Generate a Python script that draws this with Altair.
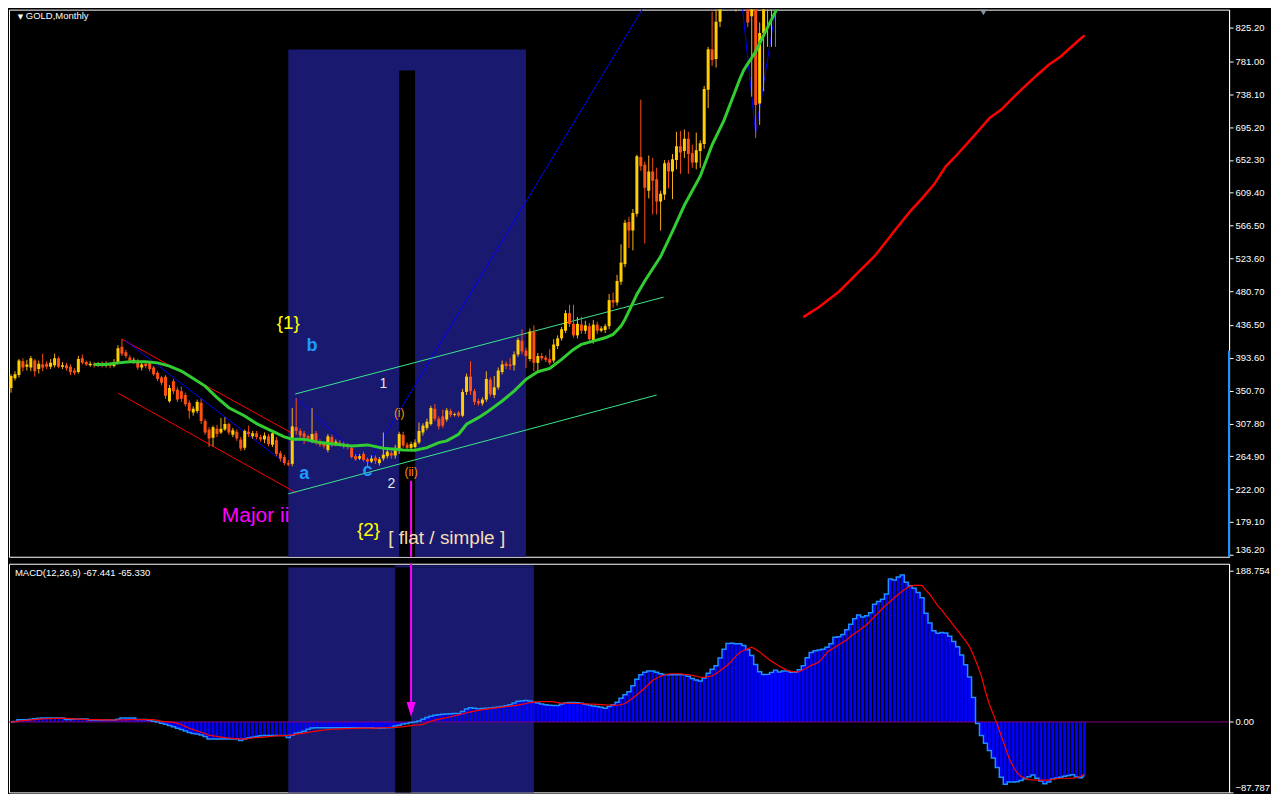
import altair as alt
import pandas as pd

# ---------------- price panel: monthly candles (bar index 0..193) ----------------
OPEN = [354,367,371,389,382,381,390,379,385,386,
        382,384,393,382,384,382,377,375,393,388,
        384,386,384,386,384,386,383,387,408,401,
        394,388,390,381,386,387,381,374,368,369,
        337,363,352,350,345,335,322,324,335,311,
        300,289,301,296,300,307,293,297,287,276,
        297,291,295,290,287,291,280,286,269,264,
        256,255,303,298,295,291,285,295,284,281,
        273,290,281,283,281,279,276,265,262,268,
        261,258,263,256,262,265,269,266,272,293,
        280,276,277,283,296,302,307,327,314,317,
        313,324,319,322,318,349,369,350,337,334,
        339,365,345,355,375,386,385,384,398,416,
        403,392,428,387,396,394,392,390,409,419,
        429,452,438,423,437,429,435,416,437,429,
        430,435,469,466,493,516,571,560,582,656,
        646,612,637,627,598,607,649,637,652,670,
        664,680,661,649,664,673,744,797,784,833,
        885,925,905,900,950,930,900,840,880,726,
        818,880,930,960]
HIGH = [372,376,392,393,391,396,392,390,399,389,
        392,399,395,388,387,385,380,396,398,390,
        389,388,388,389,389,388,392,410,418,404,
        397,394,392,388,389,389,383,376,370,371,
        358,366,355,356,348,338,330,339,340,314,
        303,305,306,315,316,309,302,300,290,300,
        305,298,298,293,296,294,298,290,272,267,
        260,328,341,301,298,293,328,298,287,284,
        294,293,287,286,284,282,279,268,268,271,
        263,266,266,264,296,275,272,280,297,297,
        283,284,287,309,308,314,331,333,317,326,
        328,327,322,324,353,373,389,353,340,342,
        376,368,370,381,390,389,393,402,420,431,
        407,432,436,400,400,397,405,418,423,434,
        456,463,463,447,447,442,439,443,441,435,
        438,477,479,502,542,574,578,588,659,731,
        650,658,655,642,612,652,652,660,689,690,
        692,689,672,688,678,749,800,846,850,905,
        940,950,960,960,990,950,920,900,900,832,
        890,940,960,980]
LOW = [348,364,368,376,377,376,369,373,376,379,
       379,381,380,379,377,371,371,373,385,383,
       382,381,382,381,381,380,381,385,396,393,
       388,386,378,377,380,376,370,363,358,340,
       335,346,336,336,330,314,318,321,307,293,
       277,278,290,294,298,293,290,285,272,273,
       290,288,287,284,282,278,277,265,258,253,
       252,252,293,286,281,285,282,280,277,275,
       270,277,278,278,275,274,262,259,260,258,
       252,256,255,253,259,262,262,262,268,276,
       272,273,275,281,292,299,305,311,300,302,
       310,316,317,316,316,345,345,332,331,331,
       336,343,341,352,372,379,378,377,395,398,
       380,389,376,376,390,388,384,387,405,416,
       426,434,420,419,425,425,414,412,425,427,
       426,431,459,462,489,512,537,534,578,638,
       543,602,581,581,560,600,615,601,640,634,
       655,634,642,640,642,667,720,775,773,826,
       870,880,890,846,900,870,826,735,681,698,
       742,800,800,800]
CLOSE = [370,372,390,381,385,393,376,386,381,382,
         387,393,382,384,380,375,374,392,387,385,
         386,384,386,384,386,383,388,406,399,396,
         390,391,381,385,383,379,372,366,361,344,
         354,350,339,340,333,324,327,336,311,296,
         288,303,294,301,307,296,299,288,275,298,
         294,295,290,287,292,281,295,268,262,256,
         254,304,298,292,290,288,294,283,280,278,
         291,280,284,280,278,277,264,261,265,260,
         258,262,259,261,267,271,266,276,294,279,
         276,281,283,298,305,310,328,314,304,305,
         325,319,320,318,349,369,350,336,334,339,
         366,346,355,377,385,383,383,398,417,402,
         396,428,387,396,393,391,387,411,419,431,
         452,438,423,438,429,436,418,437,429,432,
         435,469,466,494,518,570,560,583,657,644,
         616,637,625,598,608,648,637,653,670,662,
         680,660,649,665,674,745,797,783,833,885,
         925,905,935,950,930,905,832,880,724,818,
         880,930,950,940]

# green moving average (bar index, price)
MA_BARS = [21,24,27,30,34,37,40,43,45,49,52,55,59,62,65,69,71,74,78,82,
           86,90,94,99,102,105,108,110,113,115,118,120,124,127,130,133,136,139,142,144,
           147,150,152,154,155,157,158,160,164,167,170,174,177,180,184,185,188,190,193,194]
MA_VALS = [385,385,387,388.5,388.5,387,382.8,376.3,369.8,356.7,341.5,328.4,317.6,307.6,300.2,290.2,287.2,287.2,282.8,280.7,
           278.5,279.8,275.4,273.2,272.8,276.2,282.8,285,293.7,306.8,315.4,322,337.2,350.2,365.5,375.4,379.8,391.6,404.6,411.1,
           415.5,419.8,424.2,435,443.8,465.5,476.4,494,526,559,593,631,672,704,758,770,794,815,846,856]

# red moving average on the right
RED_BARS = [200,204,209,214,218,221,224,227,230,233,236,239,243,247,250,254,259,262,265,269,271]
RED_VALS = [446.8,460,480,506,526.4,546,566,585,602,620,643.8,660,683,706.9,718,739,763,776.6,787.5,806,815]

# trend lines: id, bar, price
TL_ID    = ['r1','r1','r2','r2','b1','b1','b2','b2','b2','b3','b3','b3','g1','g1','g2','g2']
TL_BAR   = [28,71.3,27,72,28.75,68.75,72,90,166,184,188,194,71.75,164.75,70,163]
TL_PRICE = [418,294,347.6,217.1,416.8,257.6,341.1,255,906,883,687,880,346.3,472.9,215.8,345]
TL_KIND  = ['red','red','red','red','blue','blue','blue','blue','blue','blue','blue','blue','green','green','green','green']

# shaded zones (bar from, bar to, price from, price to)
ZONE_B1 = [70, 98]
ZONE_B2 = [130, 102]
ZONE_P1 = [100, 100]
ZONE_P2 = [796.5, 769.1]
ZONE_C = ['#191970', '#000000']

# annotations
LBL_TEXT = ['{1}', '1', '2', '(i)', '(ii)', 'Major ii', '{2}', '[ flat / simple ]']
LBL_BAR = [70, 94, 96, 98, 101, 61.75, 90.25, 110]
LBL_PRICE = [430.7, 354.5, 224, 316.3, 239.3, 179.3, 161, 150.2]
LBL_COLOR = ['#FFFF00', '#E6E6E6', '#E6E6E6', '#FF8C00', '#FF8C00', '#FF00FF', '#FFFF00', '#F5DEB3']
LBL_SIZE = [19, 14, 14, 12, 12, 21, 19, 19]

WAVE_TEXT = ['b', 'a', 'c']
WAVE_BAR = [76, 74, 90]
WAVE_PRICE = [402.4, 235.5, 239.3]

PRICE_TICKS = [825.2, 781.0, 738.1, 695.2, 652.3, 609.4, 566.5, 523.6, 480.7,
               436.5, 393.6, 350.7, 307.8, 264.9, 222.0, 179.1, 136.2]

# ---------------- MACD panel (bar index 0..271) ----------------
MACD = [0,0.5,2.8,2.8,2.8,3.5,4.0,4.5,4.8,4.8,
        4.8,4.8,4.8,4.8,3.0,3.0,3.6,3.6,3.6,3.6,
        2.4,2.4,2.4,2.4,2.4,2.4,2.4,3.5,4.8,4.8,
        4.8,4.8,3.0,3.0,3.0,2.0,1.0,0.0,-1.5,-3.0,
        -4.5,-6.0,-8.0,-9.5,-11.2,-13.0,-14.3,-15.0,-16.3,-18.0,
        -21.4,-21.4,-21.4,-21.4,-21.4,-21.4,-21.4,-21.4,-23.0,-21.2,
        -20.0,-19.0,-18.0,-17.2,-17.0,-17.0,-17.0,-17.0,-17.0,-17.0,
        -19.4,-16.5,-14.0,-13.0,-11.5,-9.0,-7.5,-7.3,-7.3,-7.3,
        -7.3,-7.3,-7.3,-7.3,-7.3,-7.3,-7.3,-7.3,-7.3,-7.3,
        -7.3,-7.3,-8.0,-7.8,-7.5,-7.2,-7.0,-5.0,-4.0,-2.5,
        -1.8,-0.8,0.0,1.3,3.5,5.5,7.2,8.2,9.0,9.5,
        9.8,10.2,10.5,10.5,13.0,16.0,17.8,17.0,16.5,16.7,
        17.0,17.3,18.0,18.6,19.4,20.2,21.5,23.5,25.8,26.2,
        26.6,26.0,24.6,23.5,22.4,21.5,20.8,20.6,20.6,22.3,
        23.5,24.4,24.2,23.8,23.2,22.0,21.0,20.0,19.2,18.4,
        17.0,19.3,21.5,24.6,29.5,33.8,37.5,45.0,53.3,58.7,
        62.0,63.5,63.5,61.8,60.0,59.2,58.9,58.9,58.9,58.9,
        58.9,57.0,54.1,52.2,51.0,54.7,60.7,65.6,70.2,79.8,
        90.7,97.7,98.1,97.5,97.5,95.3,90.0,82.7,71.6,62.5,
        59.0,59.3,61.5,64.6,62.3,63.5,63.5,61.8,62.1,65.0,
        70.2,80.0,86.6,88.8,89.7,90.6,93.0,97.6,105.7,106.2,
        109.0,115.0,121.7,128.7,133.3,130.7,132.5,136.0,146.8,150.0,
        153.0,159.6,178.3,177.0,180.6,183.3,174.0,169.8,166.6,161.4,
        154.9,135.5,123.4,113.7,110.5,111.4,110.9,106.9,100.4,93.7,
        83.3,71.3,56.0,30.5,-1.8,-17.0,-26.4,-35.6,-44.8,-56.9,
        -68.9,-77.6,-75.0,-74.7,-74.4,-73.1,-70.8,-68.4,-66.1,-70.2,
        -73.5,-77.0,-74.9,-71.0,-69.9,-68.8,-67.7,-66.7,-65.7,-68.7,
        -69.5,-67.4]
SIGNAL = [0,0.3,1.0,1.5,2.0,2.5,3.0,3.5,3.8,4.0,
          4.2,4.4,4.4,4.4,4.4,4.2,3.8,3.5,3.2,3.0,
          3.0,3.0,2.8,2.7,2.6,2.5,2.4,2.4,2.5,2.7,
          2.8,3.0,3.0,3.0,3.0,3.0,3.0,2.0,0.8,0.5,
          0.0,-0.6,-1.8,-3.2,-5.8,-7.9,-9.6,-11.4,-12.9,-14.5,
          -16.5,-17.3,-18.0,-18.8,-19.5,-20.0,-20.5,-21.0,-21.2,-21.3,
          -20.6,-20.0,-19.5,-19.2,-18.8,-18.3,-17.8,-17.3,-17.1,-17.0,
          -16.7,-16.0,-15.2,-14.6,-13.9,-13.0,-12.2,-11.4,-10.7,-10.0,
          -9.5,-9.1,-8.9,-8.7,-8.4,-8.2,-8.0,-7.9,-7.8,-7.8,
          -7.7,-7.7,-7.6,-7.4,-7.2,-7.0,-6.9,-6.8,-6.4,-5.9,
          -5.2,-4.6,-4.0,-3.6,-3.0,-1.0,0.8,2.2,3.5,4.5,
          5.3,6.5,7.7,8.9,10.2,11.5,12.5,13.5,14.4,15.3,
          16.0,16.6,17.2,17.8,18.5,19.2,19.7,20.4,21.0,22.0,
          23.0,24.0,24.8,25.2,25.4,25.4,25.4,25.0,24.2,23.4,
          23.3,23.2,23.1,23.0,22.8,22.6,22.4,22.2,21.9,21.6,
          21.3,21.1,20.9,20.8,21.5,23.0,26.5,29.8,33.8,37.9,
          42.3,47.0,52.0,54.5,57.0,58.5,59.8,60.1,60.1,60.1,
          59.4,58.8,58.0,57.0,55.8,55.6,56.5,57.3,60.5,63.8,
          67.5,71.3,76.5,82.0,86.8,89.0,91.1,93.2,90.4,87.3,
          83.2,79.2,75.8,72.6,69.5,66.8,64.1,63.0,62.5,62.7,
          65.0,67.5,70.5,72.4,75.0,80.5,86.6,90.4,93.2,96.2,
          99.4,102.5,106.8,110.3,113.7,117.4,121.2,126.3,131.3,136.3,
          141.4,146.0,150.5,154.9,158.9,162.9,166.3,169.0,170.2,170.2,
          170.2,164.0,158.9,151.7,144.6,139.4,132.6,126.7,120.2,113.7,
          107.3,101.1,94.0,82.7,70.7,56.9,37.9,21.8,9.3,-3.5,
          -17.5,-31.7,-45.8,-55.6,-63.3,-68.1,-69.8,-71.8,-72.2,-72.5,
          -72.6,-72.6,-72.6,-71.6,-70.7,-70.2,-70.2,-70.2,-70.2,-69.5,
          -68.0,-65.3]
MACD_TICKS = [188.754, 0.0, -87.787]

MZONE_B1 = [70, 97, 97]
MZONE_B2 = [132, 132, 101]
MZONE_V1 = [-120, 192.4, -120]
MZONE_V2 = [192.4, 195.2, 192.4]
MZONE_C = ['#191970', '#191970', '#000000']

# ---------------- layout / styles ----------------
W, HP, HM = 1222, 548, 229
FONT = 'Liberation Sans'
UP, UP_WICK, DOWN = '#FFCC00', '#F2B01E', '#FF5014'

XS = alt.Scale(domain=[0.75, 306.25], nice=False, zero=False)
YP = alt.Scale(domain=[133.6, 848.7], nice=False, zero=False)
YM = alt.Scale(domain=[-87.787, 197.2], nice=False, zero=False)

price_axis = alt.Axis(orient='right', values=PRICE_TICKS, format='.2f', grid=False,
                      labelColor='white', tickColor='white', domainColor='white',
                      tickSize=4, labelPadding=2, labelFont=FONT, labelFontSize=9.5,
                      labelFlush=3, labelOverlap=False)
macd_axis = alt.Axis(orient='right', values=MACD_TICKS, grid=False,
                     labelExpr="datum.value == 0 ? '0.00' : format(datum.value, '.3f')",
                     labelColor='white', tickColor='white', domainColor='white',
                     tickSize=4, labelPadding=2, labelFont=FONT, labelFontSize=9.5,
                     labelFlush=True, labelOverlap=False)


def xq(f):
    return alt.X(f, type='quantitative', scale=XS, axis=None, title=None)


def yp(f):
    return alt.Y(f, type='quantitative', scale=YP, axis=price_axis, title=None)


def ym(f):
    return alt.Y(f, type='quantitative', scale=YM, axis=macd_axis, title=None)


# ---------------- price panel layers ----------------
zones = pd.DataFrame({'b1': ZONE_B1, 'b2': ZONE_B2, 'p1': ZONE_P1, 'p2': ZONE_P2, 'c': ZONE_C})
zone_layer = alt.Chart(zones).mark_rect(clip=True).encode(
    x=xq('b1'), x2='b2', y=yp('p1'), y2='p2',
    color=alt.Color('c:N', scale=None))

tl = pd.DataFrame({'id': TL_ID, 'bar': TL_BAR, 'p': TL_PRICE, 'k': TL_KIND,
                   'o': list(range(len(TL_ID)))})
tl_red = alt.Chart(tl[tl.k == 'red']).mark_line(color='#FF0000', strokeWidth=1, clip=True).encode(
    x=xq('bar'), y=yp('p'), detail='id:N', order='o:Q')
tl_blue = alt.Chart(tl[tl.k == 'blue']).mark_line(color='#0000FF', strokeWidth=1, clip=True).encode(
    x=xq('bar'), y=yp('p'), detail='id:N', order='o:Q')
tl_green = alt.Chart(tl[tl.k == 'green']).mark_line(color='#3CE68C', strokeWidth=1, clip=True).encode(
    x=xq('bar'), y=yp('p'), detail='id:N', order='o:Q')

candles = pd.DataFrame({'bar': list(range(len(OPEN))), 'o': OPEN, 'h': HIGH, 'l': LOW, 'c': CLOSE})
candles['wc'] = [UP_WICK if c >= o else DOWN for o, c in zip(OPEN, CLOSE)]
candles['bc'] = [UP if c >= o else DOWN for o, c in zip(OPEN, CLOSE)]
wicks = alt.Chart(candles).mark_rule(strokeWidth=1, clip=True).encode(
    x=xq('bar'), y=yp('l'), y2='h', color=alt.Color('wc:N', scale=None))
bodies = alt.Chart(candles).mark_bar(size=3, clip=True).encode(
    x=xq('bar'), y=yp('o'), y2='c', color=alt.Color('bc:N', scale=None))

ma = pd.DataFrame({'bar': MA_BARS, 'v': MA_VALS})
ma_layer = alt.Chart(ma).mark_line(color='#32CD32', strokeWidth=3, clip=True).encode(
    x=xq('bar'), y=yp('v'))
red = pd.DataFrame({'bar': RED_BARS, 'v': RED_VALS})
red_layer = alt.Chart(red).mark_line(color='#FF0000', strokeWidth=2.5, clip=True).encode(
    x=xq('bar'), y=yp('v'))

arrow_top = alt.Chart(pd.DataFrame({'bar': [101], 'p1': [232.8], 'p2': [120]})).mark_rule(
    color='#FF00FF', strokeWidth=2, clip=True).encode(x=xq('bar'), y=yp('p1'), y2='p2')

edge = alt.Chart(pd.DataFrame({'bar': [307.5], 'p1': [403], 'p2': [133.6]})).mark_rule(
    color='#1E90FF', strokeWidth=2).encode(x=xq('bar'), y=yp('p1'), y2='p2')

shift_mark = alt.Chart(pd.DataFrame({'bar': [245.5], 'p': [845]})).mark_point(
    shape='triangle-down', filled=True, size=45, color='#8A96A3', opacity=1).encode(
    x=xq('bar'), y=yp('p'))

lbl = pd.DataFrame({'t': LBL_TEXT, 'bar': LBL_BAR, 'p': LBL_PRICE, 'c': LBL_COLOR, 's': LBL_SIZE})
lbl_layer = alt.Chart(lbl).mark_text(font=FONT, align='center', baseline='alphabetic').encode(
    x=xq('bar'), y=yp('p'), text='t:N', color=alt.Color('c:N', scale=None),
    size=alt.Size('s:Q', scale=None))
wave = pd.DataFrame({'t': WAVE_TEXT, 'bar': WAVE_BAR, 'p': WAVE_PRICE})
wave_layer = alt.Chart(wave).mark_text(font=FONT, fontSize=18, fontWeight='bold', align='center',
                                       baseline='alphabetic', color='#1E9BFF').encode(
    x=xq('bar'), y=yp('p'), text='t:N')

title_df = pd.DataFrame({'t': ['GOLD,Monthly'], 'bar': [3.75], 'p': [836]})
title_layer = alt.Chart(title_df).mark_text(font=FONT, fontSize=9.5, align='left',
                                            baseline='alphabetic', color='white').encode(
    x=xq('bar'), y=yp('p'), text='t:N')
tri_df = pd.DataFrame({'t': ['▼'], 'bar': [2.4], 'p': [836.5]})
tri_layer = alt.Chart(tri_df).mark_text(font='DejaVu Sans', fontSize=7, align='center',
                                        baseline='alphabetic', color='white').encode(
    x=xq('bar'), y=yp('p'), text='t:N')

price = alt.layer(zone_layer, tl_red, tl_blue, tl_green, wicks, bodies, ma_layer, red_layer,
                  arrow_top, edge, shift_mark, lbl_layer, wave_layer, title_layer, tri_layer
                  ).properties(width=W, height=HP)

# ---------------- MACD panel layers ----------------
mz = pd.DataFrame({'b1': MZONE_B1, 'b2': MZONE_B2, 'v1': MZONE_V1, 'v2': MZONE_V2, 'c': MZONE_C})
mzone_layer = alt.Chart(mz).mark_rect(clip=True).encode(
    x=xq('b1'), x2='b2', y=ym('v1'), y2='v2', color=alt.Color('c:N', scale=None))

md = pd.DataFrame({'bar': list(range(len(MACD))), 'm': MACD, 's': SIGNAL, 'z': [0.0] * len(MACD)})
hist = alt.Chart(md).mark_bar(size=3, color='#0000FF', clip=True).encode(
    x=xq('bar'), y=ym('m'), y2='z')
zero = alt.Chart(pd.DataFrame({'z': [0.0]})).mark_rule(color='#800080', strokeWidth=1).encode(y=ym('z'))
mline = alt.Chart(md).mark_line(interpolate='step', color='#1E90FF', strokeWidth=1.5, clip=True).encode(
    x=xq('bar'), y=ym('m'))
sline = alt.Chart(md).mark_line(color='#FF0000', strokeWidth=1.2, clip=True).encode(
    x=xq('bar'), y=ym('s'))

arrow_line = alt.Chart(pd.DataFrame({'bar': [101], 'v1': [210], 'v2': [24]})).mark_rule(
    color='#FF00FF', strokeWidth=2, clip=True).encode(x=xq('bar'), y=ym('v1'), y2='v2')
arrow_head = alt.Chart(pd.DataFrame({'bar': [101], 'v': [15.5]})).mark_point(
    shape='M-0.6,-1L0.6,-1L0,1Z', filled=True, size=225, color='#FF00FF', opacity=1).encode(
    x=xq('bar'), y=ym('v'))

mtitle = pd.DataFrame({'t': ['MACD(12,26,9) -67.441 -65.330'], 'bar': [1.0], 'v': [182.3]})
mtitle_layer = alt.Chart(mtitle).mark_text(font=FONT, fontSize=9.5, align='left',
                                           baseline='alphabetic', color='white').encode(
    x=xq('bar'), y=ym('v'), text='t:N')

macd = alt.layer(mzone_layer, hist, zero, mline, sline, arrow_line, arrow_head, mtitle_layer
                 ).properties(width=W, height=HM)

chart = alt.vconcat(price, macd, spacing=4).properties(
    background='black', padding=0
).configure_view(stroke='white', strokeWidth=1, fill='black')

chart.save('out.html', embed_options={'renderer': 'svg', 'actions': False})
